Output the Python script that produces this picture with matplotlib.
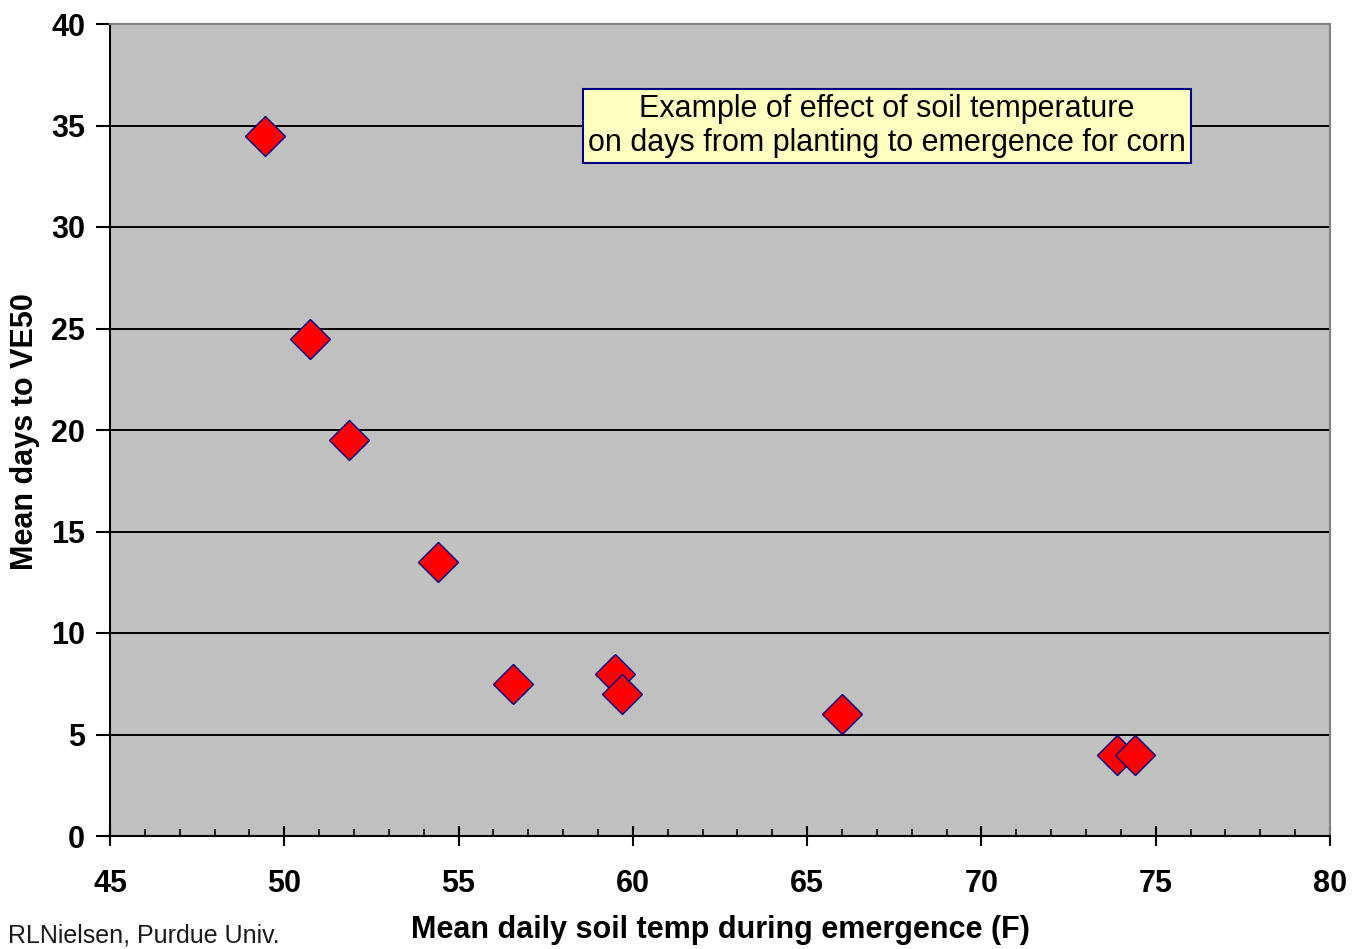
import matplotlib
matplotlib.use("Agg")
import matplotlib.pyplot as plt
from matplotlib.ticker import MultipleLocator

soil_temp_f = [49.45, 50.75, 51.85, 54.4, 56.55, 59.5, 59.7, 66.0, 73.9, 74.4]
days_to_ve50 = [34.5, 24.5, 19.5, 13.5, 7.5, 8.0, 7.0, 6.0, 4.0, 4.0]
x_ticks = [45, 50, 55, 60, 65, 70, 75, 80]
y_ticks = [0, 5, 10, 15, 20, 25, 30, 35, 40]

plt.rcParams['font.family'] = ['Liberation Sans', 'DejaVu Sans']

fig = plt.figure(figsize=(13.59, 9.49), dpi=100)
ax = fig.add_axes([110/1359, 1-836/949, 1220/1359, 812/949])
ax.set_facecolor('#C0C0C0')

ax.set_xlim(45, 80)
ax.set_ylim(0, 40)
ax.set_xticks(x_ticks)
ax.set_yticks(y_ticks)
ax.xaxis.set_minor_locator(MultipleLocator(1))

for y in y_ticks[1:-1]:
    ax.axhline(y, color='black', lw=1.4, zorder=1)

ax.plot(soil_temp_f, days_to_ve50, linestyle='none', marker='D', markersize=20,
        markerfacecolor='#FF0000', markeredgecolor='#000080', markeredgewidth=1.0,
        zorder=3)

for s in ['left', 'bottom']:
    ax.spines[s].set_color('black')
    ax.spines[s].set_linewidth(1.5)
for s in ['top', 'right']:
    ax.spines[s].set_color('#808080')
    ax.spines[s].set_linewidth(1.5)

ax.tick_params(axis='x', which='major', direction='inout', length=14, width=1.5,
               labelsize=22, pad=17)
ax.tick_params(axis='x', which='minor', direction='in', length=5, width=1.2)
ax.tick_params(axis='y', which='major', direction='out', length=10, width=1.5,
               labelsize=22, pad=8)
for lbl in ax.get_xticklabels() + ax.get_yticklabels():
    lbl.set_fontweight('bold')

fig.text(720/1359, 1-930/949, 'Mean daily soil temp during emergence (F)',
         ha='center', va='center', fontsize=22, fontweight='bold')
fig.text(25/1359, 1-432/949, 'Mean days to VE50', rotation=90,
         ha='center', va='center', fontsize=22, fontweight='bold')
fig.text(8/1359, 2/949, 'RLNielsen, Purdue Univ.', ha='left', va='bottom',
         fontsize=18, color='#1a1a1a')

fig.text(887/1359, 1-126/949,
         'Example of effect of soil temperature\non days from planting to emergence for corn',
         ha='center', va='center', fontsize=22, linespacing=1.2,
         bbox=dict(boxstyle='square,pad=0.17', facecolor='#FFFFC0',
                   edgecolor='#000080', linewidth=1.5))

fig.savefig('out.png', dpi=100)
